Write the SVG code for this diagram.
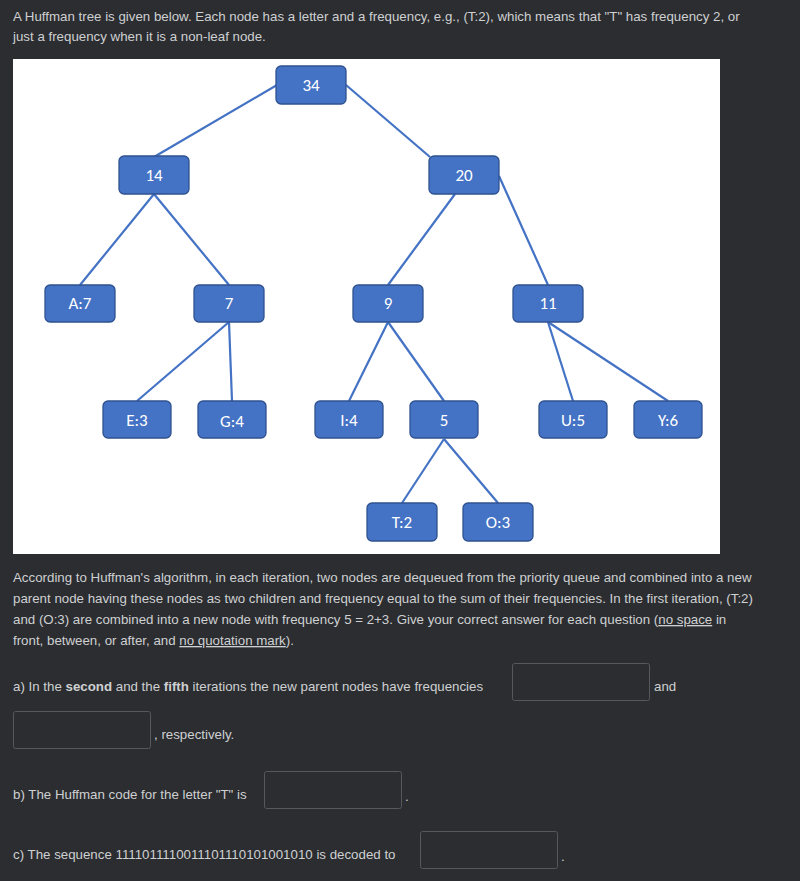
<svg xmlns="http://www.w3.org/2000/svg" width="800" height="881" viewBox="0 0 800 881">
<style>
.t{font-family:"Liberation Sans",Arial,sans-serif;font-size:13.3px;fill:#cfd0d2}
.n rect{fill:#4472c4;stroke:#2f528f;stroke-width:1.3}
.n text{font-family:Calibri,"Liberation Sans",sans-serif;font-size:17px;fill:#fff;text-anchor:middle}
.e line{stroke:#4472c4;stroke-width:2.2}
.box{fill:#2b2d30;stroke:#55585c;stroke-width:1}
</style>
<rect width="800" height="881" fill="#2b2d30"/>
<text class="t" x="13" y="21">A Huffman tree is given below. Each node has a letter and a frequency, e.g., (T:2), which means that "T" has frequency 2, or</text>
<text class="t" x="13" y="41">just a frequency when it is a non-leaf node.</text>
<rect x="13" y="59" width="707" height="495" fill="#fff"/>
<g class="e" id="connectors">
<line x1="277" y1="85" x2="154" y2="157"/>
<line x1="346" y1="85" x2="430" y2="157"/>
<line x1="154" y1="194" x2="80" y2="285"/>
<line x1="154" y1="194" x2="229" y2="285"/>
<line x1="455" y1="194" x2="388" y2="285"/>
<line x1="499" y1="176" x2="548" y2="285"/>
<line x1="229" y1="322" x2="137" y2="401"/>
<line x1="229" y1="322" x2="232" y2="401"/>
<line x1="388" y1="322" x2="349" y2="401"/>
<line x1="388" y1="322" x2="444" y2="401"/>
<line x1="548" y1="322" x2="573" y2="401"/>
<line x1="548" y1="322" x2="668" y2="401"/>
<line x1="444" y1="439" x2="402" y2="503"/>
<line x1="444" y1="439" x2="498" y2="503"/>
</g>
<g class="n" id="n34"><rect x="276" y="66" width="70" height="38" rx="5"/><text x="311" y="91">34</text></g>
<g class="n" id="n14"><rect x="119" y="156" width="70" height="38" rx="5"/><text x="154" y="181">14</text></g>
<g class="n" id="n20"><rect x="429" y="156" width="70" height="38" rx="5"/><text x="464" y="181">20</text></g>
<g class="n" id="nA"><rect x="45" y="285" width="70" height="37" rx="5"/><text x="80" y="309">A:7</text></g>
<g class="n" id="n7"><rect x="194" y="285" width="70" height="37" rx="5"/><text x="229" y="309">7</text></g>
<g class="n" id="n9"><rect x="353" y="285" width="70" height="37" rx="5"/><text x="388" y="309">9</text></g>
<g class="n" id="n11"><rect x="513" y="285" width="70" height="37" rx="5"/><text x="548" y="309">11</text></g>
<g class="n" id="nE"><rect x="103" y="401" width="68" height="37" rx="5"/><text x="137" y="426">E:3</text></g>
<g class="n" id="nG"><rect x="198" y="401" width="68" height="37" rx="5"/><text x="232" y="427">G:4</text></g>
<g class="n" id="nI"><rect x="315" y="401" width="68" height="37" rx="5"/><text x="349" y="426">I:4</text></g>
<g class="n" id="n5"><rect x="410" y="401" width="68" height="37" rx="5"/><text x="444" y="426">5</text></g>
<g class="n" id="nU"><rect x="539" y="401" width="68" height="37" rx="5"/><text x="573" y="426">U:5</text></g>
<g class="n" id="nY"><rect x="634" y="401" width="68" height="37" rx="5"/><text x="668" y="426">Y:6</text></g>
<g class="n" id="nT"><rect x="367" y="503" width="70" height="38" rx="5"/><text x="402" y="528">T:2</text></g>
<g class="n" id="nO"><rect x="463" y="503" width="70" height="38" rx="5"/><text x="498" y="528">O:3</text></g>
<text class="t" x="13" y="582">According to Huffman's algorithm, in each iteration, two nodes are dequeued from the priority queue and combined into a new</text>
<text class="t" x="13" y="603">parent node having these nodes as two children and frequency equal to the sum of their frequencies. In the first iteration, (T:2)</text>
<text class="t" x="13" y="624">and (O:3) are combined into a new node with frequency 5 = 2+3. Give your correct answer for each question (<tspan text-decoration="underline">no space</tspan> in</text>
<text class="t" x="13" y="645">front, between, or after, and <tspan text-decoration="underline">no quotation mark</tspan>).</text>
<text class="t" x="13" y="691">a) In the <tspan font-weight="bold">second</tspan> and the <tspan font-weight="bold">fifth</tspan> iterations the new parent nodes have frequencies</text>
<rect class="box" x="512.5" y="663.5" width="137" height="37" rx="2"/>
<text class="t" x="654" y="691">and</text>
<rect class="box" x="13.5" y="711.5" width="137" height="37" rx="2"/>
<text class="t" x="154" y="739">, respectively.</text>
<text class="t" x="13" y="799">b) The Huffman code for the letter "T" is</text>
<rect class="box" x="264.5" y="771.5" width="137" height="37" rx="2"/>
<text class="t" x="405" y="801">.</text>
<text class="t" x="13" y="859">c) The sequence 11110111100111011101010010​10 is decoded to</text>
<rect class="box" x="420.5" y="831.5" width="137" height="37" rx="2"/>
<text class="t" x="561" y="861">.</text>
</svg>
